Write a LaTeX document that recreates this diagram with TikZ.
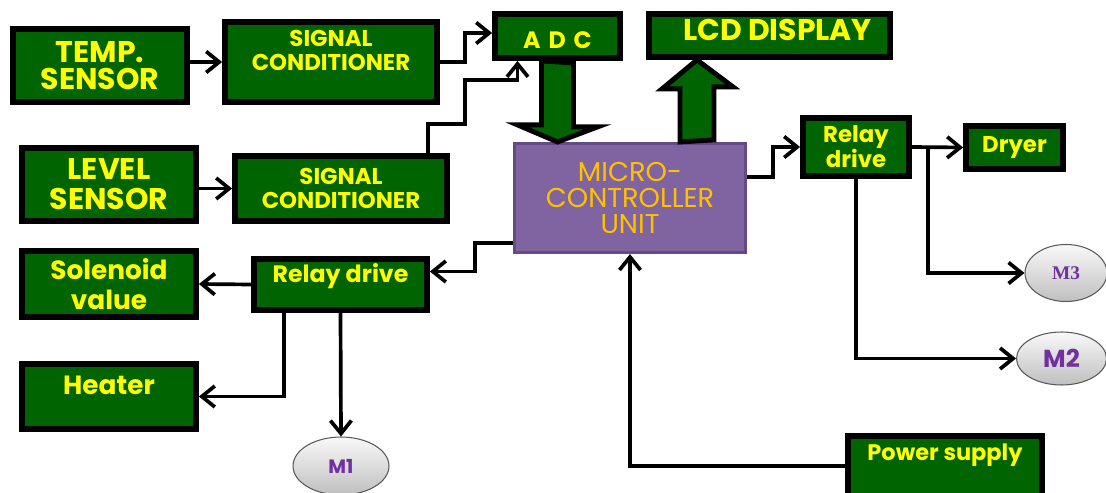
\documentclass[tikz,border=0pt]{standalone}
\usepackage{fontspec}
\setmainfont{Poppins}
\newfontfamily\motorserif{Liberation Serif}
\usepackage{tikz}
\usetikzlibrary{arrows.meta, positioning, calc, shapes.geometric}
\definecolor{boxgreen}{RGB}{0, 100, 0}
\definecolor{txtyellow}{RGB}{255, 255, 0}
\definecolor{mcupurple}{RGB}{128, 100, 162}
\definecolor{mcuedge}{RGB}{100, 75, 135}
\definecolor{mcutext}{RGB}{255, 192, 0}
\definecolor{motortext}{RGB}{112, 48, 160}

\tikzset{
  gbox/.style={draw=black, line width=3.6pt, fill=boxgreen,
               text=txtyellow, font=\bfseries, align=center, inner sep=0pt},
  gtxt/.style={text=txtyellow, align=center, inner sep=0pt},
  conn/.style={draw=black, line width=2.1pt, line join=miter,
               -{Straight Barb[length=0.26cm,width=0.42cm]}},
  fatarrow/.style={draw=black, line width=2.8pt, fill=boxgreen, line join=miter},
  motor/.style={ellipse, draw=gray!70!black, line width=0.6pt,
                top color=gray!5, bottom color=gray!50,
                text=motortext, inner sep=0pt},
}

\begin{document}
\begin{tikzpicture}[x=0.02cm, y=-0.02cm]
    \useasboundingbox (0,0) rectangle (1106,493);
    \clip (0,0) rectangle (1106,493);

    % input side
    \node[gbox, minimum width=3.47cm, minimum height=1.45cm,
          font=\bfseries\fontsize{17}{15.5}\selectfont] (temp) at (100,65.5) {TEMP.\\SENSOR};
    \node[gbox, minimum width=4.23cm, minimum height=1.59cm] (sc1) at (331,62) {};
    \node[gtxt, font=\bfseries\fontsize{13}{14}\selectfont] (sc1txt)
        at ([yshift=0.23cm]sc1.center) {SIGNAL\\CONDITIONER};
    \node[gbox, minimum width=3.47cm, minimum height=1.45cm,
          font=\bfseries\fontsize{17}{17}\selectfont] (level) at (109,184.5) {LEVEL\\SENSOR};
    \node[gbox, minimum width=4.23cm, minimum height=1.29cm,
          font=\bfseries\fontsize{13}{14}\selectfont] (sc2) at (341,188.5) {SIGNAL\\CONDITIONER};
    \node[gbox, minimum width=2.49cm, minimum height=0.87cm] (adc) at (557.5,36) {};
    \node[gtxt, font=\bfseries\fontsize{13.5}{15}\selectfont] (adctxt)
        at ([yshift=-0.08cm]adc.center) {A\,\,D\,\,C};
    \node[gbox, minimum width=4.81cm, minimum height=0.85cm] (lcd) at (769.5,35.5) {};
    \node[gtxt, font=\bfseries\fontsize{17}{19}\selectfont] (lcdtxt)
        at ([xshift=0.16cm, yshift=0.11cm]lcd.center) {LCD DISPLAY};

    % controller
    \node[draw=mcuedge, line width=1.5pt, fill=mcupurple, text=mcutext, align=center,
          minimum width=4.63cm, minimum height=2.19cm,
          font=\fontsize{15.5}{15}\selectfont] (mcu) at (630,198) {MICRO-\\CONTROLLER\\UNIT};

    % output side
    \node[gbox, minimum width=2.11cm, minimum height=1.15cm,
          font=\bfseries\fontsize{13}{14.2}\selectfont] (relR) at (856,147) {Relay\\drive};
    \node[gbox, minimum width=1.93cm, minimum height=0.85cm,
          font=\bfseries\fontsize{13}{14}\selectfont] (dryer) at (1014.5,147.5) {Dryer};
    \node[gbox, minimum width=3.47cm, minimum height=1.31cm,
          font=\bfseries\fontsize{15}{17}\selectfont] (sol) at (109,284) {Solenoid\\value};
    \node[gbox, minimum width=3.45cm, minimum height=1.01cm] (relL) at (340.5,284.5) {};
    \node[gtxt, font=\bfseries\fontsize{13.5}{15}\selectfont] (relLtxt)
        at ([yshift=0.17cm]relL.center) {Relay drive};
    \node[gbox, minimum width=3.47cm, minimum height=1.29cm] (heater) at (109,396.5) {};
    \node[gtxt, font=\bfseries\fontsize{15}{17}\selectfont] (heatertxt)
        at ([yshift=0.23cm]heater.center) {Heater};
    \node[gbox, minimum width=3.87cm, minimum height=1.31cm] (power) at (945,469) {};
    \node[gtxt, font=\bfseries\fontsize{12.8}{14}\selectfont] (powertxt)
        at ([yshift=0.28cm]power.center) {Power supply};

    % motors
    \node[motor, minimum width=1.92cm, minimum height=1.16cm,
          font=\bfseries\fontsize{11}{13}\selectfont] (m1) at (341,466) {M1};
    \node[motor, minimum width=1.8cm, minimum height=1.06cm,
          font=\bfseries\fontsize{14}{16}\selectfont] (m2) at (1061.5,358.5) {M2};
    \node[motor, minimum width=1.64cm, minimum height=1.14cm,
          font=\motorserif\bfseries\fontsize{11}{13}\selectfont] (m3) at (1066,273) {M3};

    % bus arrows
    \filldraw[fatarrow] (adc.south) ++(-16,0) -- ++(0,64) -- ++(-24,0)
        -- (mcu.north -| adc.south) -- ++(40,-15) -- ++(-24,0) -- ++(0,-64) -- cycle;
    \path (mcu.north) ++(67,0) coordinate (upfoot);
    \filldraw[fatarrow] (upfoot) ++(-17,0) -- ++(0,-53) -- ++(-18,0)
        -- (upfoot |- lcd.south) -- ++(36,27) -- ++(-19,0) -- ++(0,53) -- cycle;

    % signal lines
    \draw[conn] (temp.east |- sc1.west) -- (sc1.west);
    \draw[conn] (sc1.east) -- ++(25,0) |- ([yshift=0.06cm]adc.west);
    \draw[conn] (level.east |- sc2.west) -- (sc2.west);
    \draw[conn] ([xshift=1.74cm]sc2.north) -- ++(0,-29) -| ++(37,-44)
        -| ([xshift=-0.8cm]adc.south);
    \draw[conn] ([yshift=0.42cm]mcu.east) -- ++(26,0) |- (relR.west);
    \draw[conn] (relR.east) -- (dryer.west);
    \draw[conn] ([xshift=0.32cm]relR.east) |- (m3.west);
    \draw[conn] (relR.south) |- (m2.west);
    \draw[conn] ([yshift=-0.9cm]mcu.west) -- ++(-38,0) |- ([yshift=0.26cm]relL.east);
    \draw[conn] (relL.west) -- (sol.east);
    \draw[conn] ([xshift=-1.13cm]relL.south) |- (heater.east);
    \draw[conn] (relL.south) -- (m1.north);
    \draw[conn] ([yshift=0.06cm]power.west) -| (mcu.south);
\end{tikzpicture}
\end{document}
